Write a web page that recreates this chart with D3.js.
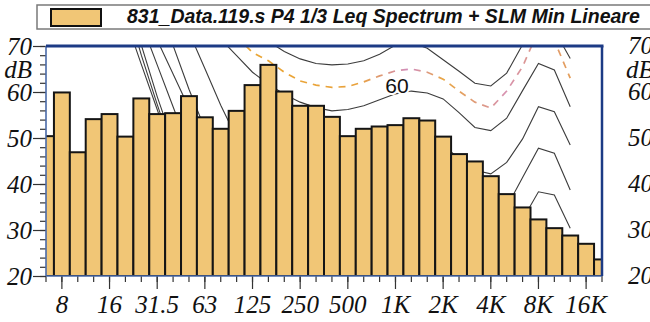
<!DOCTYPE html>
<html>
<head>
<meta charset="utf-8">
<script src="https://cdn.jsdelivr.net/npm/d3@7"></script>
<style>
  body { margin: 0; background: #fff; }
  svg { display: block; }
</style>
</head>
<body>
<div id="chart"></div>
<script>
// 1/3 octave bands shown on the chart
var bands = ["6.3", "8", "10", "12.5", "16", "20", "25", "31.5", "40", "50", "63", "80", "100", "125",
  "160", "200", "250", "315", "400", "500", "630", "800", "1K", "1.25K", "1.6K", "2K", "2.5K",
  "3.15K", "4K", "5K", "6.3K", "8K", "10K", "12.5K", "16K", "20K"];

// Leq spectrum (dB)
var leq = [50.4, 59.9, 46.9, 54.1, 55.2, 50.3, 58.6, 55.2, 55.4, 59.1, 54.5, 52.0, 55.9, 61.5,
  65.9, 60.1, 57.0, 57.0, 54.6, 50.4, 52.0, 52.5, 52.8, 54.3, 53.8, 50.3, 46.5,
  44.9, 41.7, 37.8, 34.9, 32.3, 30.4, 28.8, 27.0, 23.6];

// background curves (dB per band, null = not drawn)
var n = null;
var curve70 = [n, n, n, n, n, n, n, n, n, n, n, n, n, 74, 71, 68.8, 67.2, 66.2, 65.9, 66.1, 66.8, 68.2,
  70.2, 70.8, 69.5, 67.0, 64.5, 61.9, 61.3, 64.1, 70.3, 75, 73.4, 67.3, n, n];
var curveMin = [n, n, n, n, n, n, n, n, n, n, n, n, 72, 68.6, 66.8, 64.3, 62.4, 61.5, 61.0, 61.2, 62.2, 63.5,
  64.6, 65.0, 64.3, 62.8, 60.2, 57.8, 56.5, 60.2, 65.5, 73.4, 71.2, 63.0, n, n];
var curve60 = [n, n, n, n, n, n, n, n, n, n, 75.5, 71.5, 67.9, 64.3, 61.7, 59.5, 57.8, 56.6, 55.9, 56.2, 57.0, 58.3,
  59.6, 60.2, 59.8, 58.5, 55.5, 52.3, 51.6, 54.3, 60.3, 66.2, 64.8, 56.8, n, n];
var curve50 = [n, n, n, n, n, n, n, n, 84, 73, 65.1, 57.1, 50, 47, 45, 43.5, 42.5, 42, 42, 42.5, 44, 46.5,
  50, 51, 50, 48.5, 45.5, 43, 42.2, 44.7, 49.8, 56.8, 55.7, 48.5, n, n];
var curve40 = [n, n, n, n, n, n, n, 80, 70.1, 60.6, 52, 46, 42, 39, 37, 35.5, 34, 33.5, 33, 33, 34, 36,
  39, 40.5, 40, 38.5, 35.5, 32.5, 31.8, 35, 41.4, 47.8, 46.7, 38.7, n, n];
var curve30 = [n, n, n, n, n, n, 78, 71.3, 63.9, 56.5, 49, 42, 36.5, 32.5, 29.5, 27.5, 26, 25, 24.5, 24.5, 25.5, 27,
  30, 31, 30.5, 29, 26, 23, 22, 25.5, 32.3, 38.3, 37.6, 30.4, n, n];
var curve20 = [n, n, n, n, n, 85, 75, 65.9, 56.8, 47.7, 39, 32, 26.5, 22.5, 19.5, 17.5, 16, n, n, n, n, n,
  n, n, n, n, n, n, n, n, n, n, n, n, n, n];
var curve10 = [n, n, n, n, 92, 81, 70.2, 59, 49, 41, 34, 28, 23, 19, 16, n, n, n, n, n, n, n,
  n, n, n, n, n, n, n, n, n, n, n, n, n, n];
var curve0 = [n, n, n, n, 91, 80, 68, 57.3, 47, 39, 32, 26, 21, 17, n, n, n, n, n, n, n, n,
  n, n, n, n, n, n, n, n, n, n, n, n, n, n];
var curveT = [n, n, n, n, 86, 76, 66, 56.2, 46, 38, 31, 24, 18, n, n, n, n, n, n, n, n, n,
  n, n, n, n, n, n, n, n, n, n, n, n, n, n];

var octaveTicks = ["8", "16", "31.5", "63", "125", "250", "500", "1K", "2K", "4K", "8K", "16K"];
var dbTicks = [20, 30, 40, 50, 60, 70];
var dbMinor = d3.range(20, 71, 2);
var legendText = "831_Data.119.s P4 1/3 Leq Spectrum + SLM Min Lineare";

var svgWidth = 650;
var svgHeight = 322;
var plot = { left: 46, top: 46, right: 602, bottom: 276 };

var svg = d3.select("#chart")
  .append("svg")
  .attr("width", svgWidth)
  .attr("height", svgHeight);

var step = (plot.right - plot.left) / (bands.length - 1);
var x = d3.scaleBand()
  .domain(bands)
  .range([plot.left - step / 2, plot.right + step / 2])
  .padding(0);
var cx = function (b) { return x(b) + x.bandwidth() / 2; };

var y = d3.scaleLinear()
  .domain([20, 70])
  .range([plot.bottom, plot.top]);

var defs = svg.append("defs");
defs.append("clipPath").attr("id", "plotClip")
  .append("rect")
  .attr("x", plot.left).attr("y", plot.top)
  .attr("width", plot.right - plot.left).attr("height", plot.bottom - plot.top);

var grad = defs.append("linearGradient").attr("id", "dashGrad")
  .attr("gradientUnits", "userSpaceOnUse")
  .attr("x1", 240).attr("x2", 580).attr("y1", 0).attr("y2", 0);
[[0, "#eaa634"], [0.35, "#e9a23c"], [0.5, "#d08cc0"], [0.6, "#e9a640"], [0.78, "#d792b0"], [1, "#e6a04c"]]
  .forEach(function (s) {
    grad.append("stop").attr("offset", s[0]).attr("stop-color", s[1]);
  });

// legend box
svg.append("rect")
  .attr("x", 37).attr("y", 5)
  .attr("width", 640).attr("height", 24)
  .attr("fill", "#fff")
  .attr("stroke", "#7a7a7a")
  .attr("stroke-width", 1.5);
svg.append("rect")
  .attr("x", 51).attr("y", 9)
  .attr("width", 50).attr("height", 17)
  .attr("fill", "#f1c676")
  .attr("stroke", "#111")
  .attr("stroke-width", 2);
svg.append("text")
  .attr("x", 127).attr("y", 23)
  .attr("font-family", "Liberation Sans, Arial, sans-serif")
  .attr("font-weight", "bold")
  .attr("font-style", "italic")
  .attr("font-size", 19.5)
  .attr("fill", "#111")
  .text(legendText);

var chartGroup = svg.append("g").attr("clip-path", "url(#plotClip)");

// background curves (drawn behind the bars)
var line = d3.line()
  .defined(function (d) { return d.v !== null; })
  .x(function (d) { return cx(d.b); })
  .y(function (d) { return y(d.v); });
var toPoints = function (arr) {
  return arr.map(function (v, i) { return { b: bands[i], v: v }; });
};

[curveT, curve0, curve10, curve20, curve30, curve40, curve50, curve60, curve70].forEach(function (c) {
  chartGroup.append("path")
    .attr("d", line(toPoints(c)))
    .attr("fill", "none")
    .attr("stroke", "#3c3c3c")
    .attr("stroke-width", 1.1);
});

chartGroup.append("path")
  .attr("d", line(toPoints(curveMin)))
  .attr("fill", "none")
  .attr("stroke", "url(#dashGrad)")
  .attr("stroke-width", 1.7)
  .attr("stroke-dasharray", "7,6");

// bars
chartGroup.selectAll(".bar")
  .data(leq)
  .enter()
  .append("rect")
  .attr("class", "bar")
  .attr("x", function (d, i) { return x(bands[i]); })
  .attr("width", x.bandwidth())
  .attr("y", function (d) { return y(d); })
  .attr("height", function (d) { return plot.bottom - y(d); })
  .attr("fill", "#f1c676")
  .attr("stroke", "#151515")
  .attr("stroke-width", 2);

// "60" curve label
svg.append("text")
  .attr("x", 397).attr("y", 93)
  .attr("text-anchor", "middle")
  .attr("font-family", "Liberation Sans, Arial, sans-serif")
  .attr("font-size", 21)
  .attr("fill", "#111")
  .attr("stroke", "#fff")
  .attr("stroke-width", 4)
  .attr("paint-order", "stroke")
  .text("60");

// axes
var serif = "Liberation Serif, Times New Roman, serif";

var xMinor = svg.append("g")
  .attr("transform", "translate(0," + plot.bottom + ")")
  .call(d3.axisBottom(x).tickSize(6).tickFormat(""));
var xMajor = svg.append("g")
  .attr("transform", "translate(0," + plot.bottom + ")")
  .call(d3.axisBottom(x).tickValues(octaveTicks).tickSize(13).tickPadding(6));
xMajor.selectAll("text")
  .attr("font-family", serif)
  .attr("font-style", "italic")
  .attr("font-size", 25)
  .attr("fill", "#111");

var yMinor = svg.append("g")
  .attr("transform", "translate(" + plot.left + ",0)")
  .call(d3.axisLeft(y).tickValues(dbMinor).tickSize(6).tickFormat(""));
var yMajor = svg.append("g")
  .attr("transform", "translate(" + plot.left + ",0)")
  .call(d3.axisLeft(y).tickValues(dbTicks).tickSize(13).tickPadding(1));
yMajor.selectAll("text")
  .attr("font-family", serif)
  .attr("font-style", "italic")
  .attr("font-size", 25)
  .attr("fill", "#111");

[xMinor, xMajor, yMinor, yMajor].forEach(function (g) {
  g.select(".domain").remove();
  g.selectAll("line").attr("stroke", "#333").attr("stroke-width", 1.2);
});

svg.append("text")
  .attr("x", 32).attr("y", 78)
  .attr("text-anchor", "end")
  .attr("font-family", serif)
  .attr("font-style", "italic")
  .attr("font-size", 25)
  .attr("fill", "#111")
  .text("dB");

// frame
svg.append("line")
  .attr("x1", plot.left).attr("x2", plot.left)
  .attr("y1", plot.top).attr("y2", plot.bottom)
  .attr("stroke", "#4a6aa8").attr("stroke-width", 1.6);
svg.append("line")
  .attr("x1", plot.left).attr("x2", plot.right)
  .attr("y1", plot.bottom).attr("y2", plot.bottom)
  .attr("stroke", "#4a6aa8").attr("stroke-width", 1.4);
svg.append("line")
  .attr("x1", plot.left).attr("x2", plot.right + 1.5)
  .attr("y1", plot.top).attr("y2", plot.top)
  .attr("stroke", "#1c3b85").attr("stroke-width", 3);
svg.append("line")
  .attr("x1", plot.right).attr("x2", plot.right)
  .attr("y1", plot.top).attr("y2", plot.bottom)
  .attr("stroke", "#1c3b85").attr("stroke-width", 2.5);

// labels of the neighbouring chart, cut by the window edge
var rightLabels = dbTicks.map(String);
rightLabels.forEach(function (t) {
  svg.append("text")
    .attr("x", 628).attr("y", y(+t))
    .attr("dy", "0.32em")
    .attr("font-family", serif)
    .attr("font-style", "italic")
    .attr("font-size", 25)
    .attr("fill", "#111")
    .text(t);
});
svg.append("text")
  .attr("x", 626).attr("y", 78)
  .attr("font-family", serif)
  .attr("font-style", "italic")
  .attr("font-size", 25)
  .attr("fill", "#111")
  .text("dB");
</script>
</body>
</html>
